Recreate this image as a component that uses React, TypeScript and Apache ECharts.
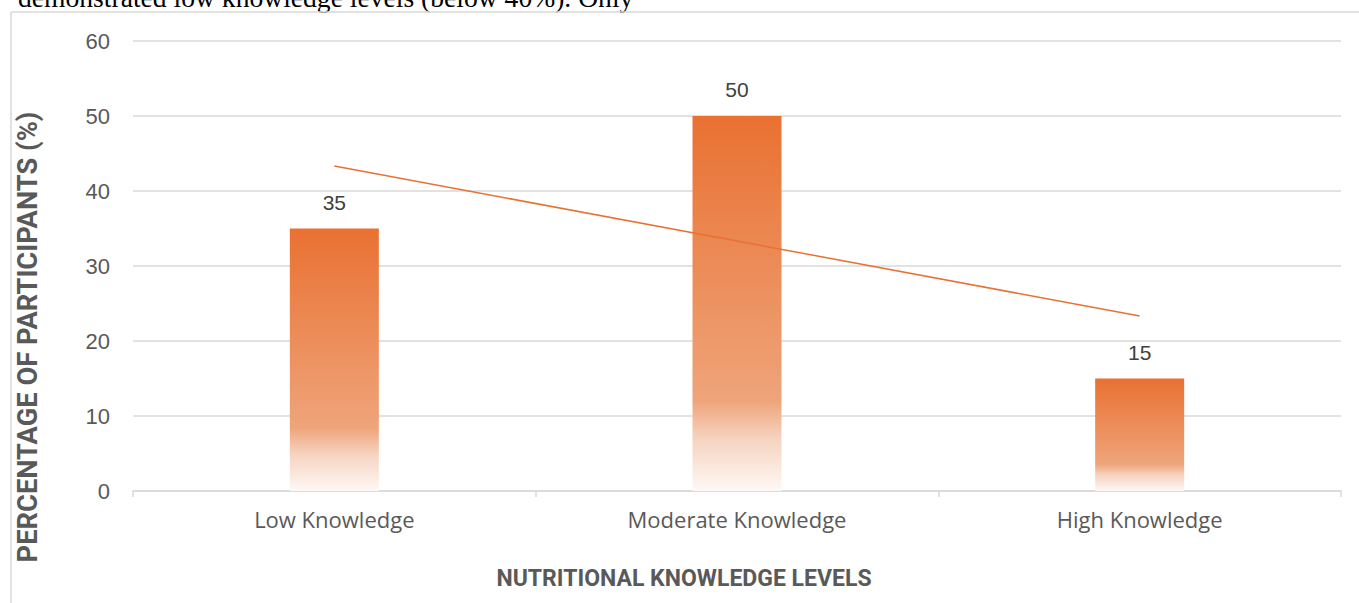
import React, { useEffect, useRef } from "react";
import * as echarts from "echarts";

const categories = ["Low Knowledge", "Moderate Knowledge", "High Knowledge"];
const percentages = [35, 50, 15];
const trendValues = [43.33, 33.33, 23.33];
const yTicks = { min: 0, max: 60, interval: 10 };
const yAxisTitle = "PERCENTAGE OF PARTICIPANTS (%)";
const xAxisTitle = "NUTRITIONAL KNOWLEDGE LEVELS";
const topText = "demonstrated low knowledge levels (below 40%). Only";

const ORANGE = "#E97132";

export default function App() {
  const ref = useRef<HTMLDivElement>(null);
  useEffect(() => {
    if (!ref.current) return;
    const chart = echarts.init(ref.current, null, { renderer: "svg" });
    chart.setOption({
      animation: false,
      backgroundColor: "#ffffff",
      grid: { left: 133, right: 18, top: 41, bottom: 112, containLabel: false },
      xAxis: {
        type: "category",
        data: categories,
        axisLine: { show: true, lineStyle: { color: "#d9d9d9", width: 1.5 } },
        axisTick: { show: true, length: 6, lineStyle: { color: "#d9d9d9", width: 1.5 } },
        axisLabel: { color: "#595959", fontSize: 22, fontFamily: "Open Sans", margin: 17 },
      },
      yAxis: {
        type: "value",
        min: yTicks.min,
        max: yTicks.max,
        interval: yTicks.interval,
        axisLine: { show: false },
        axisTick: { show: false },
        splitLine: { lineStyle: { color: "#d9d9d9", width: 1.5 } },
        axisLabel: { color: "#595959", fontSize: 22, fontFamily: "Liberation Sans", margin: 23 },
      },
      series: [
        {
          type: "bar",
          data: percentages,
          barWidth: 89,
          itemStyle: {
            color: new echarts.graphic.LinearGradient(0, 0, 0, 1, [
              { offset: 0, color: "#E97132" },
              { offset: 0.76, color: "#EFA47A" },
              { offset: 0.86, color: "#F6D3BF" },
              { offset: 1, color: "#FEF8F5" },
            ]),
          },
          label: {
            show: true,
            position: "top",
            distance: 16,
            color: "#404040",
            fontSize: 21,
            fontFamily: "Liberation Sans",
          },
        },
        {
          type: "line",
          data: trendValues,
          symbol: "none",
          lineStyle: { color: ORANGE, width: 1.5 },
          z: 5,
        },
      ],
      graphic: [
        {
          type: "text",
          x: 18,
          y: 11,
          style: {
            text: topText,
            font: "27.6px 'Liberation Serif'",
            fill: "#000000",
            verticalAlign: "bottom",
          },
        },
        {
          type: "line",
          shape: { x1: 11, y1: 12, x2: 1359, y2: 12 },
          style: { stroke: "#d9d9d9", lineWidth: 1.5 },
        },
        {
          type: "line",
          shape: { x1: 11, y1: 12, x2: 11, y2: 603 },
          style: { stroke: "#d9d9d9", lineWidth: 1.5 },
        },
        {
          type: "text",
          x: 28,
          y: 337,
          rotation: Math.PI / 2,
          style: {
            text: yAxisTitle,
            font: "bold 27.3px Roboto",
            fill: "#595959",
            align: "center",
            verticalAlign: "middle",
          },
        },
        {
          type: "text",
          x: 684,
          y: 578,
          style: {
            text: xAxisTitle,
            font: "bold 23px Roboto",
            fill: "#595959",
            align: "center",
            verticalAlign: "middle",
          },
        },
      ],
    });
    return () => chart.dispose();
  }, []);
  return (
    <div
      ref={ref}
      style={{ position: "absolute", left: 0, top: 0, width: 1359, height: 603 }}
    />
  );
}
